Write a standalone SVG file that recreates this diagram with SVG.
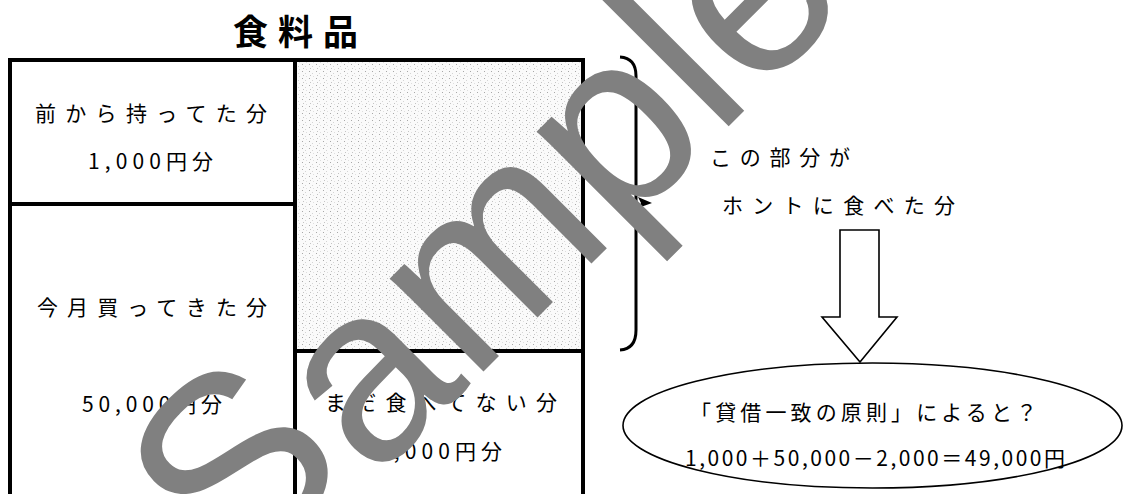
<svg xmlns="http://www.w3.org/2000/svg" width="1126" height="494" viewBox="0 0 1126 494">
<style>
.t{font-family:"Noto Sans CJK JP","Noto Sans",sans-serif;font-size:21px;fill:#000;text-anchor:middle}
.title{font-family:"Noto Sans CJK JP","Noto Sans",sans-serif;font-size:35px;font-weight:bold;fill:#000;text-anchor:middle}
.box{fill:none;stroke:#000;stroke-width:4}
.thin{fill:#fff;stroke:#000;stroke-width:1.6}
.wm{font-family:"Liberation Sans",Arial,sans-serif;font-size:250px;fill:#808080}
</style>
<defs>
<pattern id="stip" width="7" height="7" patternUnits="userSpaceOnUse">
<rect width="7" height="7" fill="#fafafa"/>
<rect x="1" y="1" width="1" height="1" fill="#a8a8a8"/>
<rect x="4" y="3" width="1" height="1" fill="#d4d4d4"/>
<rect x="2" y="5" width="1" height="1" fill="#c4c4c4"/>
<rect x="5" y="6" width="1" height="1" fill="#dedede"/>
</pattern>
</defs>
<rect width="1126" height="494" fill="#fff"/>
<g id="title"><text class="title" x="295.5" y="45" textLength="125" lengthAdjust="spacing">食料品</text></g>
<g id="eaten"><rect x="295" y="60" width="288" height="291" fill="url(#stip)"/></g>
<g id="frame">
<rect class="box" x="10" y="60" width="573" height="460"/>
<line class="box" x1="295" y1="60" x2="295" y2="520"/>
<line class="box" x1="10" y1="204" x2="295" y2="204"/>
<line class="box" x1="295" y1="351" x2="583" y2="351"/>
</g>
<g id="prev">
<text class="t" x="151" y="121" textLength="232" lengthAdjust="spacing">前から持ってた分</text>
<text class="t" x="150.5" y="169" textLength="125" lengthAdjust="spacing">1,000円分</text>
</g>
<g id="bought">
<text class="t" x="152" y="315" textLength="230" lengthAdjust="spacing">今月買ってきた分</text>
<text class="t" x="152" y="412" textLength="140" lengthAdjust="spacing">50,000円分</text>
</g>
<g id="remain">
<text class="t" x="441" y="410" textLength="232" lengthAdjust="spacing">まだ食べてない分</text>
<text class="t" x="439.5" y="459" textLength="125" lengthAdjust="spacing">2,000円分</text>
</g>
<g id="connectors">
<path d="M620,57 Q636,58 636,76 L636,330 Q636,349 620,350" fill="none" stroke="#000" stroke-width="3"/>
<polygon points="638,197 652,203 638,208 641,203" fill="#000"/>
<path class="thin" d="M840,230 H879 V317 H897 L860,362 L822,317 H840 Z"/>
</g>
<g id="note">
<text class="t" x="780" y="165" textLength="140" lengthAdjust="spacing">この部分が</text>
<text class="t" x="838.5" y="213" textLength="233" lengthAdjust="spacing">ホントに食べた分</text>
</g>
<g id="result">
<ellipse class="thin" cx="872.5" cy="425.5" rx="249.5" ry="62.5"/>
<text class="t" x="863.5" y="420" textLength="347" lengthAdjust="spacing">「貸借一致の原則」によると？</text>
<text class="t" x="875" y="466" textLength="380" lengthAdjust="spacing">1,000＋50,000－2,000＝49,000円</text>
</g>
<g id="watermark"><text class="wm" transform="translate(255,600) rotate(-45)"><tspan x="-7.6" y="-21.8" font-size="260">S</tspan><tspan x="166.75" y="0">ample</tspan></text></g>
</svg>
